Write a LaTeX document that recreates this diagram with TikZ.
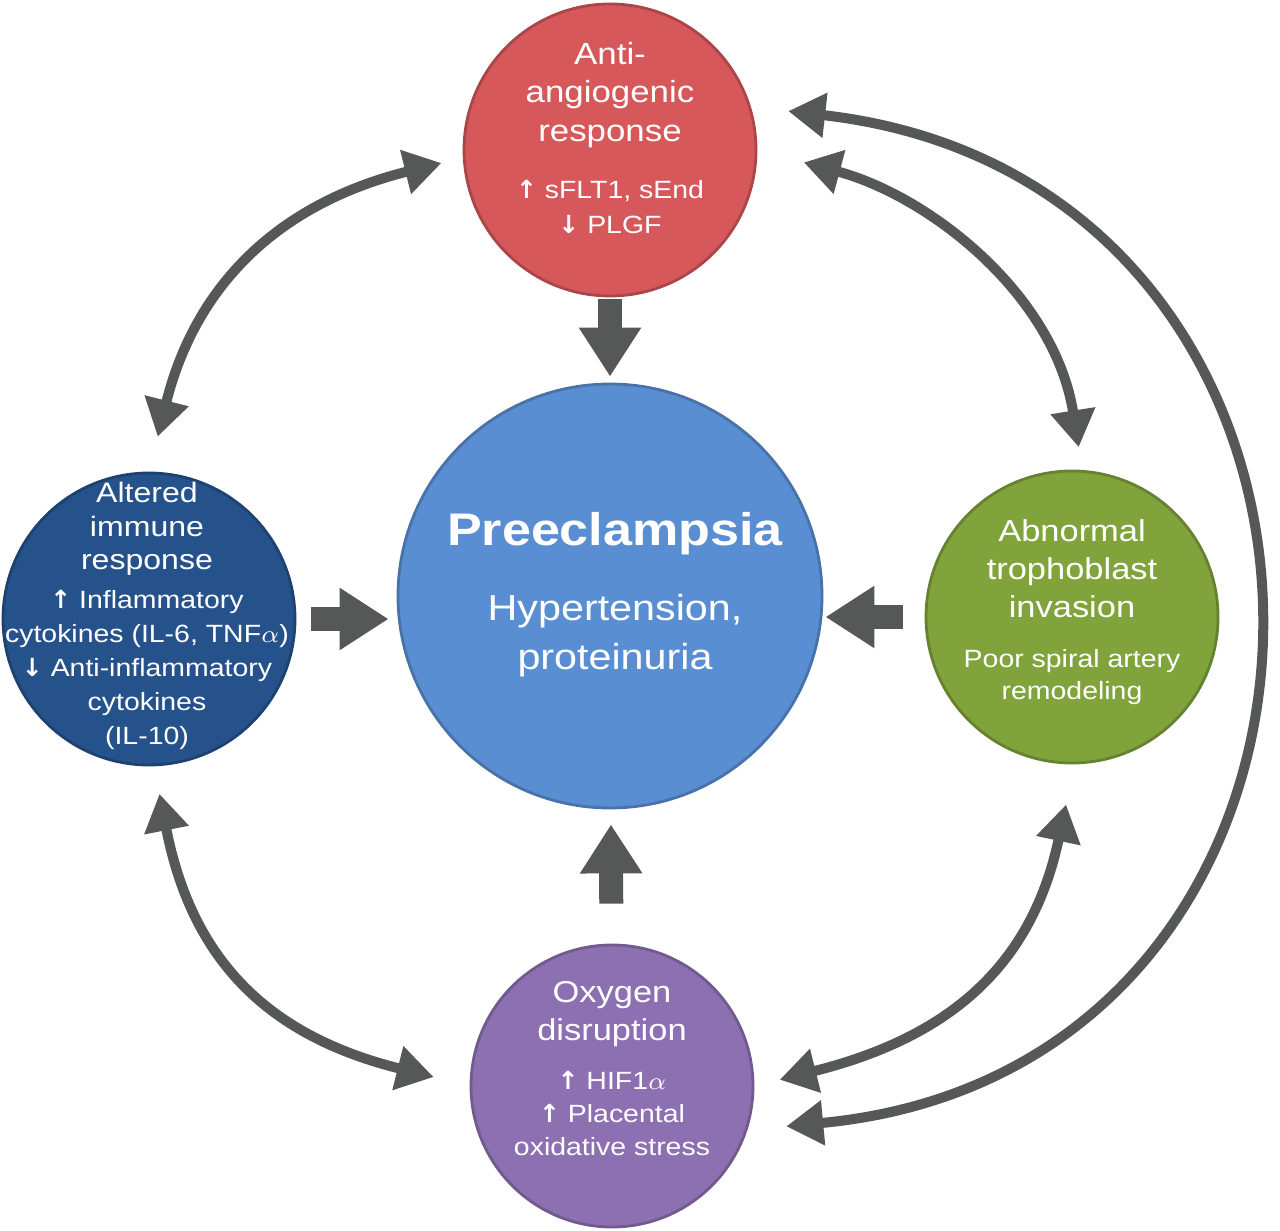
\documentclass[tikz,border=0pt]{standalone}
\usepackage{fontspec}
\setmainfont[FakeStretch=1.14]{Liberation Sans}
\newfontfamily\arrfont{DejaVu Sans}
\usetikzlibrary{arrows.meta, positioning}
\definecolor{antired}{RGB}{214,88,90}
\definecolor{preblue}{RGB}{90,142,210}
\definecolor{immblue}{RGB}{38,82,140}
\definecolor{trogreen}{RGB}{128,163,60}
\definecolor{oxpurple}{RGB}{141,112,178}
\definecolor{arrgray}{RGB}{86,88,88}
\newcommand{\subtxt}{\fontsize{7.1pt}{9pt}\selectfont}
\newcommand{\up}{{\arrfont\bfseries ↑}}
\newcommand{\dn}{{\arrfont\bfseries ↓}}
\tikzset{
	ball/.style={circle, inner sep=0pt, minimum size=2.92cm, line width=0.8pt},
	txt/.style={text=white, align=center, inner sep=0pt},
	oneway/.style={draw=arrgray, line width=2.4mm, ->, >={Triangle[length=4.9mm, width=5.9mm]}},
	twoway/.style={draw=arrgray, line width=1mm, <->, >={Triangle[length=3.7mm, width=4.3mm]}}}

\begin{document}
\begin{tikzpicture}
	\useasboundingbox (0,0) rectangle (12.8,-12.31);

	\node[ball, fill=antired, draw=antired!80!black] (anti) at (6.10,-1.50) {};
	\node[ball, fill=preblue, draw=preblue!80!black, minimum size=4.24cm] (pre) at (6.10,-5.96) {};
	\node[ball, fill=immblue, draw=immblue!80!black] (immune) at (1.49,-6.19) {};
	\node[ball, fill=trogreen, draw=trogreen!80!black] (troph) at (10.72,-6.17) {};
	\node[ball, fill=oxpurple, draw=oxpurple!80!black, minimum size=2.82cm] (oxygen) at (6.12,-10.86) {};

	\node[txt, font=\fontsize{8.7pt}{10.95pt}\selectfont, below=0.39cm of anti.north] (anti-t)
		{Anti-\\angiogenic\\response\\[5.25pt]
		{\subtxt \up\ sFLT1, sEnd}\\[-0.95pt]
		{\subtxt \dn\ PLGF}};
	\node[txt, font=\fontsize{10.3pt}{13.9pt}\selectfont, below=1.29cm of pre.north, xshift=0.05cm] (pre-t)
		{{\fontsize{13pt}{15pt}\selectfont\bfseries Preeclampsia}\\[7.4pt]
		Hypertension,\\proteinuria};
	\node[txt, font=\fontsize{8pt}{9.5pt}\selectfont, below=0.10cm of immune.north, xshift=-0.02cm] (immune-t)
		{Altered\\immune\\response\\[1.6pt]
		{\subtxt \up\ Inflammatory}\\[0.2pt]
		{\subtxt cytokines (IL-6, TNF$\alpha$)}\\[0.2pt]
		{\subtxt \dn\ Anti-inflammatory}\\[0.2pt]
		{\subtxt cytokines}\\[0.2pt]
		{\subtxt (IL-10)}};
	\node[txt, font=\fontsize{8.6pt}{10.8pt}\selectfont, below=0.49cm of troph.north] (troph-t)
		{Abnormal\\trophoblast\\invasion\\[3.4pt]
		{\subtxt Poor spiral artery}\\[-1.7pt]
		{\subtxt remodeling}};
	\node[txt, font=\fontsize{8.6pt}{10.8pt}\selectfont, below=0.37cm of oxygen.north] (oxygen-t)
		{Oxygen\\disruption\\[3.1pt]
		{\subtxt \up\ HIF1$\alpha$}\\[-1.4pt]
		{\subtxt \up\ Placental}\\[-1.4pt]
		{\subtxt oxidative stress}};

	% straight arrows into the centre
	\draw[oneway, shorten <=0.02cm, shorten >=0.06cm] (anti) -- (pre);
	\draw[oneway, shorten <=0.40cm, shorten >=0.15cm] (oxygen) -- (pre);
	\draw[oneway, shorten <=0.15cm, shorten >=0.08cm] (immune.east) -- (immune.east -| pre.west);
	\draw[oneway, shorten <=0.22cm, shorten >=0.02cm] (troph.west) -- (troph.west -| pre.east);

	\draw[twoway, shorten <=0.36cm, shorten >=0.22cm] (immune.90) to[out=76, in=194, looseness=1.1] (anti.-177);
	\draw[twoway, shorten <=0.48cm, shorten >=0.23cm] (anti.0) to[out=-15, in=99] (troph.86);
	\draw[twoway, shorten <=0.28cm, shorten >=0.37cm] (immune.-88) to[out=-79, in=166, looseness=1.15] (oxygen.180);
	\draw[twoway, shorten <=0.41cm, shorten >=0.26cm] (troph.-89) to[out=-102, in=14, looseness=1.15] (oxygen.0);
	\draw[twoway, shorten <=0.375cm, shorten >=0.39cm] (anti.17) to[out=-6.5, in=5.4, looseness=1.66] (oxygen.-18.5);
\end{tikzpicture}
\end{document}
